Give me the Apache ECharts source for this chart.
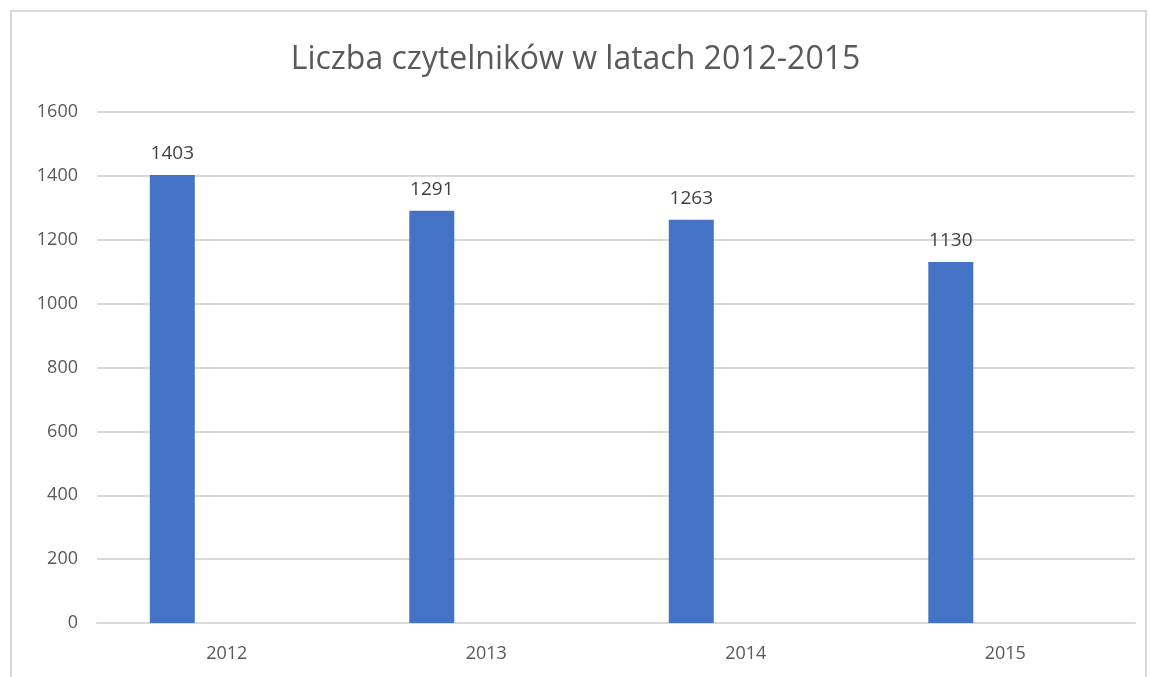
<!DOCTYPE html>
<html lang="pl">
<head>
    <meta charset="UTF-8">
    <title>Liczba czytelników</title>
    <script src="https://cdn.jsdelivr.net/npm/echarts@6/dist/echarts.min.js"></script>
    <style>
        html, body { margin: 0; padding: 0; background: #fff; }
        #chart { width: 1151px; height: 677px; }
    </style>
</head>
<body>
<div id="chart"></div>
<script>
    var years = ['2012', '2013', '2014', '2015'];
    var readers = [1403, 1291, 1263, 1130];
    var emptySeries = [null, null, null, null];
    var yTicks = { min: 0, max: 1600, interval: 200 };

    var font = 'Open Sans, sans-serif';

    var chart = echarts.init(document.getElementById('chart'));
    chart.setOption({
        animation: false,
        title: {
            text: 'Liczba czytelników w latach 2012-2015',
            left: 'center',
            top: 39,
            textStyle: { fontFamily: font, fontSize: 32, fontWeight: 'normal', color: '#595959' }
        },
        graphic: [{
            type: 'rect',
            shape: { x: 11, y: 11, width: 1135, height: 700 },
            style: { fill: 'none', stroke: '#d9d9d9', lineWidth: 2 },
            silent: true
        }],
        grid: { left: 97, right: 16, top: 112, bottom: 54 },
        xAxis: {
            type: 'category',
            data: years,
            axisLine: { lineStyle: { color: '#d9d9d9', width: 2 } },
            axisTick: { show: false },
            axisLabel: { color: '#595959', fontSize: 18, fontFamily: font, margin: 22 }
        },
        yAxis: {
            type: 'value',
            min: yTicks.min,
            max: yTicks.max,
            interval: yTicks.interval,
            axisLine: { show: false },
            axisTick: { show: false },
            splitLine: { lineStyle: { color: '#d9d9d9', width: 2 } },
            axisLabel: {
                color: '#595959', fontSize: 18, fontFamily: font, margin: 19,
                formatter: function (v) { return String(v); }
            }
        },
        series: [{
            type: 'bar',
            data: readers,
            barWidth: 45,
            barGap: '142%',
            itemStyle: { color: '#4472c4' },
            label: {
                show: true,
                position: 'top',
                distance: 12,
                color: '#404040',
                fontSize: 19,
                fontFamily: font
            }
        }, {
            type: 'bar',
            data: emptySeries,
            barWidth: 45
        }]
    });
</script>
</body>
</html>
